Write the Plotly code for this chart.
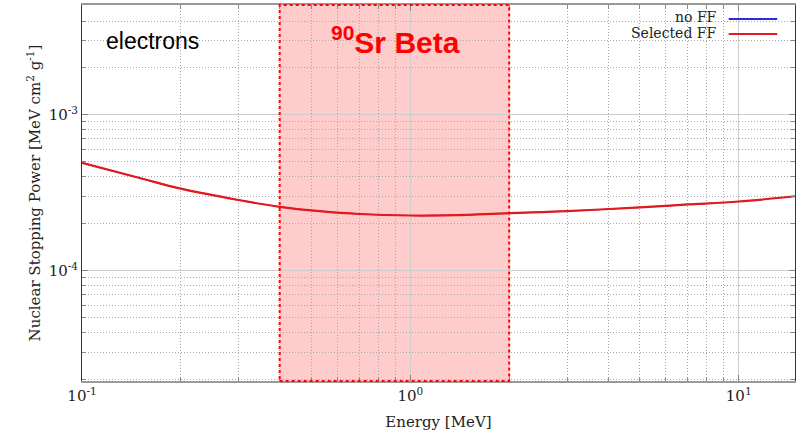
import plotly.graph_objects as go

energy = [0.1, 0.15, 0.2, 0.3, 0.4, 0.53, 0.7, 1.0, 1.5, 2.0, 3.0, 5.0, 7.0, 10.0, 15.0]
no_ff = [4.92e-4, 3.93e-4, 3.36e-4, 2.84e-4, 2.57e-4, 2.41e-4, 2.31e-4, 2.26e-4, 2.28e-4, 2.34e-4, 2.41e-4, 2.55e-4, 2.66e-4, 2.78e-4, 3.01e-4]
selected_ff = [4.92e-4, 3.93e-4, 3.36e-4, 2.84e-4, 2.57e-4, 2.41e-4, 2.31e-4, 2.26e-4, 2.28e-4, 2.34e-4, 2.41e-4, 2.55e-4, 2.66e-4, 2.78e-4, 3.01e-4]
band = [0.4, 2.0]
x_ticks = [0.1, 1, 10]
x_ticktext = ["10<sup>-1</sup>", "10<sup>0</sup>", "10<sup>1</sup>"]
y_ticks = [1e-4, 1e-3]
y_ticktext = ["10<sup>-4</sup>", "10<sup>-3</sup>"]

serif = "DejaVu Serif"
fig = go.Figure()
fig.add_trace(go.Scatter(x=energy, y=no_ff, mode="lines", name="no FF",
                         line=dict(color="#2b2bd6", width=1.2, shape="spline")))
fig.add_trace(go.Scatter(x=energy, y=selected_ff, mode="lines", name="Selected FF",
                         line=dict(color="#e31a1c", width=2.2, shape="spline")))

# shaded band
fig.add_shape(type="rect", xref="x", yref="paper", x0=band[0], x1=band[1], y0=0, y1=1,
              fillcolor="rgb(255,204,204)", line=dict(width=0), layer="below")
fig.add_shape(type="rect", xref="x", yref="paper", x0=band[0], x1=band[1], y0=0, y1=1,
              fillcolor="rgba(0,0,0,0)", line=dict(color="#ff0000", width=2, dash="dot"), layer="above")

# legend box (white, covering grid)
fig.add_shape(type="rect", xref="paper", yref="paper", x0=0.731, x1=0.999, y0=0.893, y1=0.997,
              fillcolor="white", line=dict(width=0), layer="between")
leg_items = [("no FF", "#2b2bd6", 0.968, 0.963), ("Selected FF", "#e31a1c", 0.925, 0.923)]
for name, col, ty, ly in leg_items:
    fig.add_annotation(xref="paper", yref="paper", x=0.894, y=ty, text=name, showarrow=False,
                       xanchor="right", yanchor="middle", font=dict(family=serif, size=14, color="#222"))
    fig.add_shape(type="line", xref="paper", yref="paper", x0=0.907, x1=0.975, y0=ly, y1=ly,
                  line=dict(color=col, width=2), layer="above")

fig.add_annotation(xref="paper", yref="paper", x=0.031, y=0.905, text="electrons", showarrow=False,
                   xanchor="left", yanchor="middle", font=dict(family="Liberation Sans, Arial", size=23, color="black"))
fig.add_annotation(xref="paper", yref="paper", x=0.44, y=0.908, text="<sup>90</sup>Sr Beta", showarrow=False,
                   xanchor="center", yanchor="middle", font=dict(family="Liberation Sans, Arial", size=30, color="#ff0000", weight="bold"))

fig.update_layout(
    width=797, height=431,
    margin=dict(l=82, r=2, t=5, b=50),
    plot_bgcolor="white", paper_bgcolor="white",
    showlegend=False,
    font=dict(family=serif, size=13, color="#222"),
)
fig.update_xaxes(type="log", range=[-1, 1.1715], automargin=False,
                 tickvals=x_ticks, ticktext=x_ticktext,
                 showgrid=True, gridcolor="#cccccc", gridwidth=1,
                 ticks="inside", ticklen=6, tickcolor="#888",
                 showline=True, linecolor="#999", linewidth=2, mirror="ticks",
                 tickfont=dict(family=serif, size=15, color="#222"),
                 title=dict(text="Energy [MeV]", font=dict(family=serif, size=15, color="#222"), standoff=14),
                 minor=dict(tickvals=[v * d for d in [0.1, 1, 10] for v in range(2, 10)],
                            showgrid=True, gridcolor="#aaaaaa", griddash="1px,2px", gridwidth=1,
                            ticks="inside", ticklen=4, tickcolor="#888"),
                 zeroline=False)
fig.update_yaxes(type="log", range=[-4.708, -2.295], automargin=False,
                 tickvals=y_ticks, ticktext=y_ticktext,
                 showgrid=True, gridcolor="#cccccc", gridwidth=1,
                 ticks="inside", ticklen=6, tickcolor="#888",
                 showline=True, linecolor="#333", linewidth=1, mirror="ticks",
                 tickfont=dict(family=serif, size=15, color="#222"),
                 title=dict(text="Nuclear Stopping Power [MeV cm<sup>2</sup> g<sup>-1</sup>]",
                            font=dict(family=serif, size=15, color="#222"), standoff=4),
                 minor=dict(tickvals=[v * d for d in [1e-5, 1e-4, 1e-3] for v in range(2, 10)],
                            showgrid=True, gridcolor="#aaaaaa", griddash="1px,2px", gridwidth=1,
                            ticks="inside", ticklen=4, tickcolor="#888"),
                 zeroline=False)

fig.write_html("out.html", config={"displayModeBar": False},
               post_script="document.body.style.margin='0';document.body.style.overflow='hidden';")
